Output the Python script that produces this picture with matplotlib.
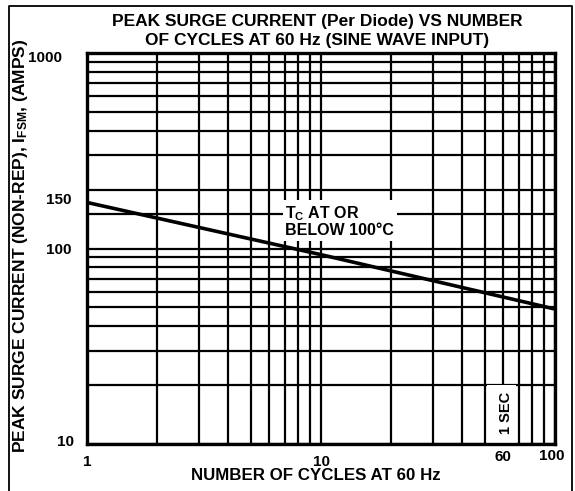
import matplotlib
matplotlib.use("Agg")
import matplotlib.pyplot as plt
import matplotlib.transforms as mtransforms
from matplotlib.patches import Rectangle
from matplotlib.lines import Line2D

# Data
cycles = [1, 10, 100]
surge_current = [172, 93, 49]

x_ticks = [1, 10, 60, 100]
x_tick_labels = ["1", "10", "60", "100"]
y_ticks = [10, 100, 150, 1000]
y_tick_labels = ["10", "100", "150", "1000"]

title = "PEAK SURGE CURRENT (Per Diode) VS NUMBER\nOF CYCLES AT 60 Hz (SINE WAVE INPUT)"
xlabel = "NUMBER OF CYCLES AT 60 Hz"
ylabel = "PEAK SURGE CURRENT (NON-REP), I$_{\\mathregular{FSM}}$, (AMPS)"
note = "T$_{\\mathregular{C}}$ AT OR\nBELOW 100°C"
sec_note = "1 SEC"

plt.rcParams['font.family'] = ['Liberation Sans', 'DejaVu Sans']
plt.rcParams['font.weight'] = 'bold'
plt.rcParams['mathtext.default'] = 'regular'

fig = plt.figure(figsize=(5.75, 4.91), dpi=100)
ax = fig.add_axes([87/575, 47/491, (555-87)/575, (444-53)/491])
ax.set_xscale('log')
ax.set_yscale('log')
ax.set_xlim(1, 100)
ax.set_ylim(10, 1000)

ax.grid(True, which='both', color='black', linewidth=1.6)
ax.set_axisbelow(True)
for s in ax.spines.values():
    s.set_linewidth(2.4)

ax.plot(cycles, surge_current, color='black', linewidth=2.6, zorder=5)

ax.set_xticks(x_ticks)
ax.set_xticklabels(x_tick_labels)
ax.xaxis.set_minor_locator(matplotlib.ticker.LogLocator(base=10, subs=range(2, 10)))
ax.xaxis.set_minor_formatter(matplotlib.ticker.NullFormatter())
ax.set_yticks(y_ticks)
ax.set_yticklabels(y_tick_labels)
ax.yaxis.set_minor_locator(matplotlib.ticker.LogLocator(base=10, subs=range(2, 10)))
ax.yaxis.set_minor_formatter(matplotlib.ticker.NullFormatter())
ax.tick_params(which='both', length=0, labelsize=11)
ax.tick_params(axis='x', pad=8)
ax.tick_params(axis='y', pad=12)

def shift(lab, dx, dy):
    lab.set_transform(lab.get_transform() + mtransforms.ScaledTranslation(dx/100, dy/100, fig.dpi_scale_trans))

for lab in ax.get_yticklabels():
    t = lab.get_text()
    if t == "150":
        shift(lab, 1, 16)
    elif t == "100":
        shift(lab, 1, 0)
    elif t == "1000":
        shift(lab, -8, -4)
    elif t == "10":
        shift(lab, 4, 3)
for lab in ax.get_xticklabels():
    t = lab.get_text()
    if t == "100":
        shift(lab, -3, 6)
    elif t == "60":
        shift(lab, 0, 5)

# white box around "1 SEC"
ax.add_patch(Rectangle((51, 10), 68 - 51, 20 - 10, facecolor='white', edgecolor='none', zorder=2))
ax.text(61.5, 14.4, sec_note, rotation=90, ha='center', va='center', fontsize=10.5, zorder=6)

ax.text(7.05, 138, note, ha='left', va='center', fontsize=11.5, linespacing=1.0, zorder=6,
        bbox=dict(facecolor='white', edgecolor='none', pad=2))

fig.text(317/575, 1 - 31/491, title, ha='center', va='center', fontsize=12.5, linespacing=1.4)
fig.text(316/575, 1 - 476/491, xlabel, ha='center', va='center', fontsize=12.2)
fig.text(21/575, 1 - 246/491, ylabel, ha='center', va='center', rotation=90, fontsize=12.5)

# figure frame (left, top, right)
fig.add_artist(Line2D([9/575, 9/575, 572/575, 572/575], [0, 1 - 6/491, 1 - 6/491, 0],
                      transform=fig.transFigure, color='black', linewidth=1.3))

fig.savefig("out.png", dpi=100)
